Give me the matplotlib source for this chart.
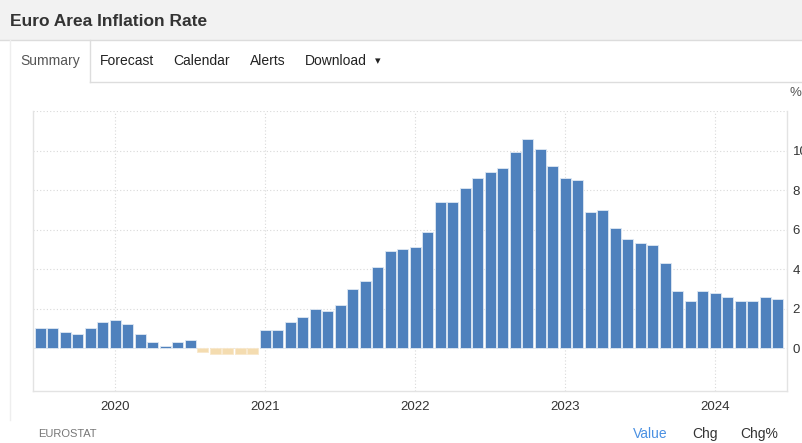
import numpy as np
import matplotlib.pyplot as plt
from matplotlib.patches import Rectangle
from matplotlib.lines import Line2D

plt.rcParams['font.family'] = ['Liberation Sans', 'DejaVu Sans']

# monthly values, Jul 2019 .. Jun 2024
rates = [1.0, 1.0, 0.8, 0.7, 1.0, 1.3,
         1.4, 1.2, 0.7, 0.3, 0.1, 0.3, 0.4, -0.2, -0.3, -0.3, -0.3, -0.3,
         0.9, 0.9, 1.3, 1.6, 2.0, 1.9, 2.2, 3.0, 3.4, 4.1, 4.9, 5.0,
         5.1, 5.9, 7.4, 7.4, 8.1, 8.6, 8.9, 9.1, 9.9, 10.6, 10.1, 9.2,
         8.6, 8.5, 6.9, 7.0, 6.1, 5.5, 5.3, 5.2, 4.3, 2.9, 2.4, 2.9,
         2.8, 2.6, 2.4, 2.4, 2.6, 2.5]
year_labels = ['2020', '2021', '2022', '2023', '2024']
year_idx = [6, 18, 30, 42, 54]   # January bars
tabs = ['Summary', 'Forecast', 'Calendar', 'Alerts', 'Download']
tab_x = [20, 100, 173, 250, 305]
yticks = [0, 2, 4, 6, 8, 10]

W, H = 802, 443
fig = plt.figure(figsize=(W / 100, H / 100), dpi=100)
fig.patch.set_facecolor('white')

def px(x, y):
    return x / W, 1 - y / H

# header band
fig.patches.append(Rectangle((0, 1 - 40 / H), 1, 40 / H, transform=fig.transFigure,
                             facecolor='#f2f2f2', edgecolor='none'))
fig.lines.append(Line2D([0, 1], [1 - 40 / H] * 2, transform=fig.transFigure, color='#dcdcdc', lw=1))
fig.text(*px(10, 21), 'Euro Area Inflation Rate', fontsize=12.5, fontweight='bold',
         color='#333333', va='center', ha='left')

# tabs
fig.lines.append(Line2D([90 / W, 1], [1 - 82 / H] * 2, transform=fig.transFigure, color='#dddddd', lw=1))
fig.lines.append(Line2D([10 / W] * 2, [1 - 40 / H, 1 - 420 / H], transform=fig.transFigure, color='#eeeeee', lw=1))
fig.lines.append(Line2D([90 / W] * 2, [1 - 40 / H, 1 - 82 / H], transform=fig.transFigure, color='#dddddd', lw=1))
for name, x in zip(tabs, tab_x):
    col = '#555555' if name == 'Summary' else '#222222'
    fig.text(*px(x, 61), name, fontsize=10, color=col, va='center', ha='left')
fig.text(*px(375, 61), '\u25be', fontsize=8, color='#222222', va='center', ha='left',
         family=['DejaVu Sans'])

# chart
ax = fig.add_axes([33 / W, (H - 391) / H, 754 / W, 280 / H])
x = np.arange(len(rates))
colors = ['#4f81bd' if v >= 0 else '#f4dcb0' for v in rates]
edges = ['#dfe8f3' if v >= 0 else '#f8e8cc' for v in rates]
ax.bar(x, rates, width=0.88, color=colors, edgecolor=edges, linewidth=0.6, zorder=3)
ax.set_xlim(-0.56, 59.76)
ax.set_ylim(-2.17, 12)

ax.set_yticks(yticks)
ax.yaxis.tick_right()
ax.tick_params(axis='y', length=0, pad=4, labelsize=9.5, labelcolor='#333333')
ax.set_xticks(year_idx)
ax.set_xticklabels(year_labels)
ax.tick_params(axis='x', length=0, pad=7, labelsize=9.5, labelcolor='#333333')

for v in yticks + [12]:
    ax.axhline(v, color='#d9d9d9', lw=0.8, ls=(0, (1, 2)), zorder=1)
for i in year_idx:
    ax.axvline(i, color='#d9d9d9', lw=0.8, ls=(0, (1, 2)), zorder=1)

for s in ['left', 'bottom', 'right']:
    ax.spines[s].set_color('#e3e3e3')
    ax.spines[s].set_linewidth(1)
ax.spines['top'].set_visible(False)

fig.text(*px(790, 93), '%', fontsize=9.5, color='#555555', va='center', ha='left')

# footer
fig.text(*px(38, 434), 'EUROSTAT', fontsize=8, color='#777777', va='center', ha='left')
fig.text(*px(633, 434), 'Value', fontsize=10, color='#4a90e2', va='center', ha='left')
fig.text(*px(692, 434), 'Chg', fontsize=10, color='#333333', va='center', ha='left')
fig.text(*px(740, 434), 'Chg%', fontsize=10, color='#333333', va='center', ha='left')

fig.savefig('out.png', dpi=100, facecolor='white')
